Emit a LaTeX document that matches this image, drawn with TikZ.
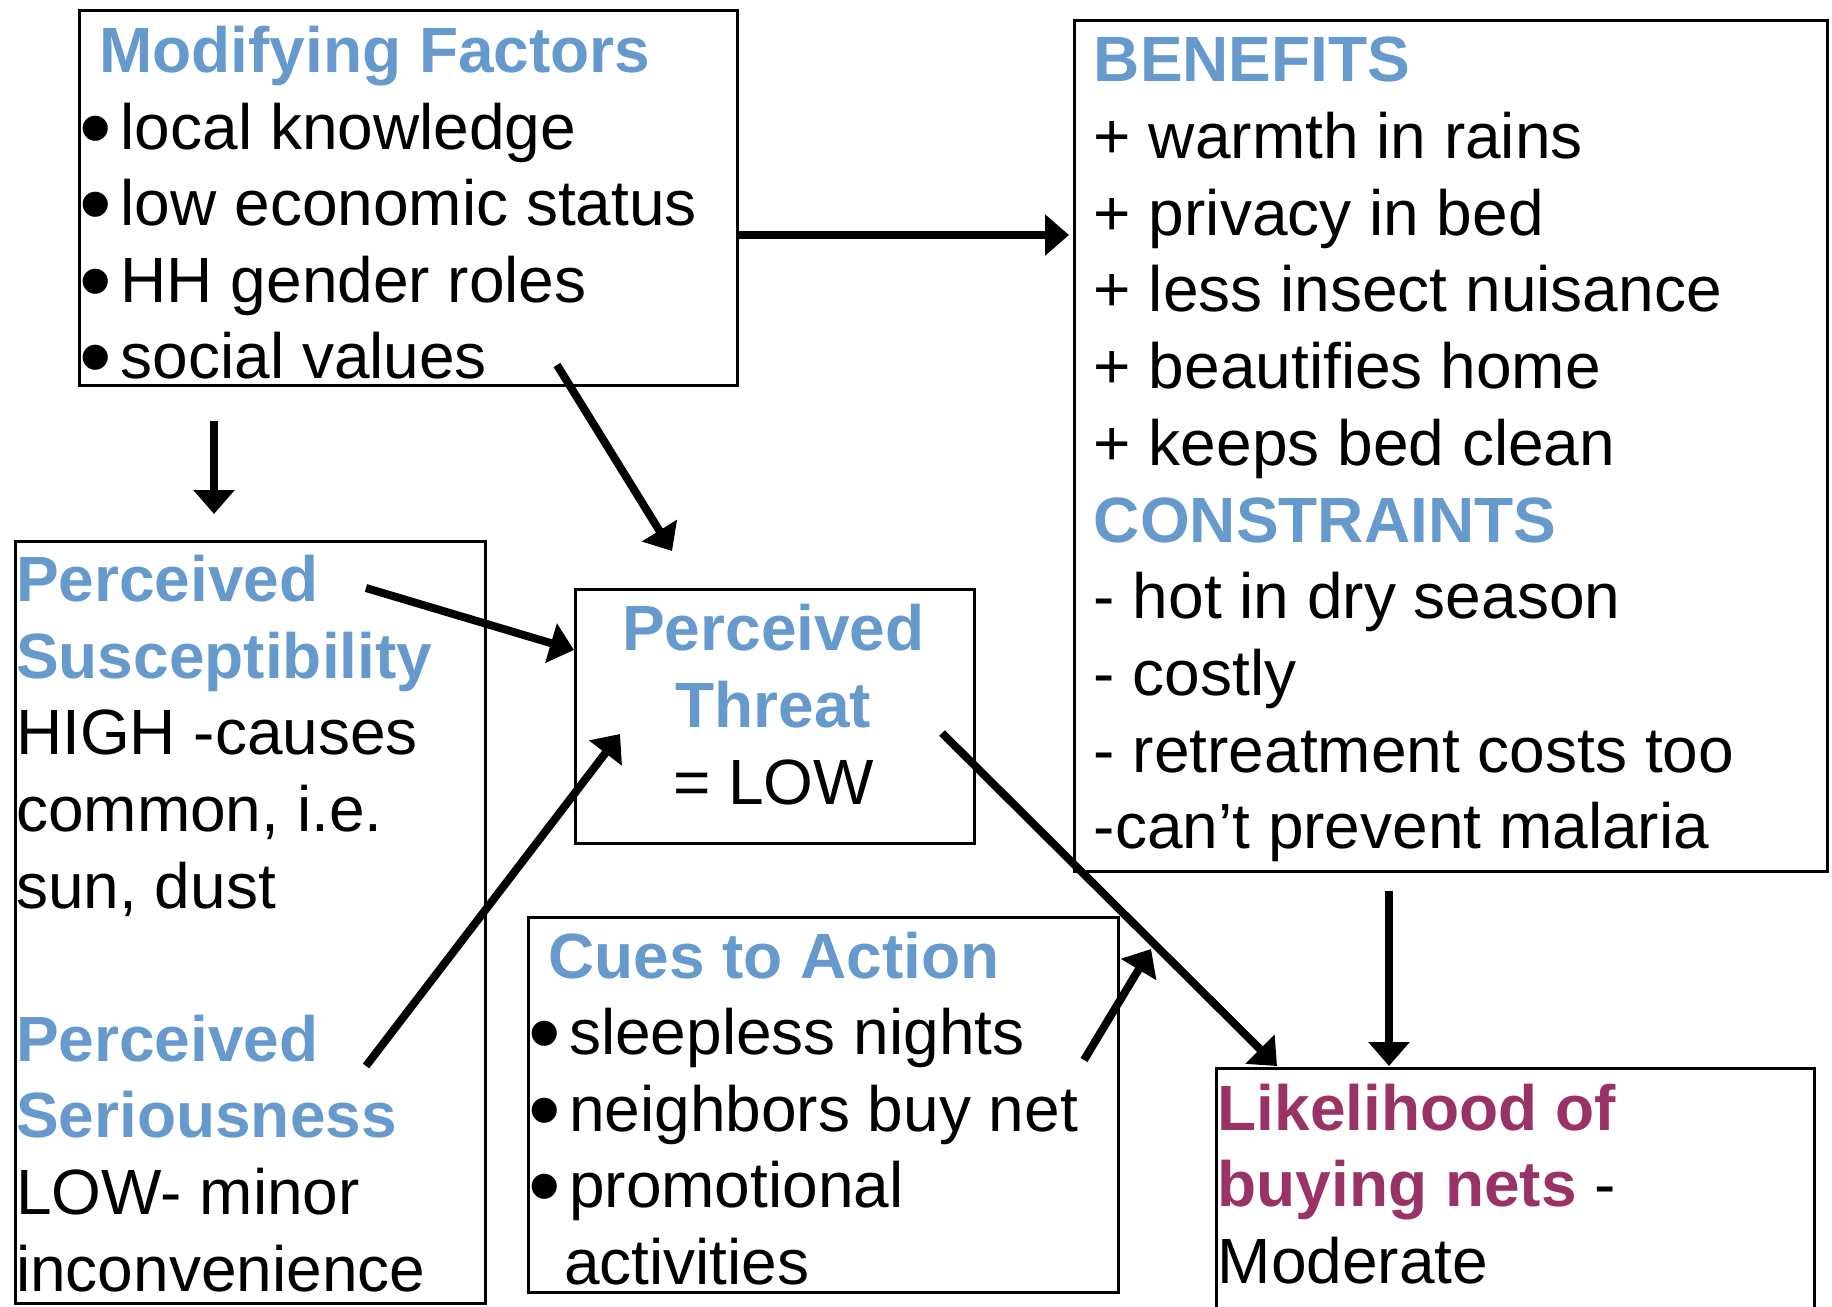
\documentclass[tikz,border=0pt]{standalone}
\usepackage{fontspec}
\setmainfont{Liberation Sans}
\usetikzlibrary{arrows.meta}
\definecolor{headblue}{RGB}{102,153,204}
\definecolor{likelyred}{RGB}{153,51,102}
\newcommand{\dotmark}{\makebox[41pt][l]{\raisebox{-10pt}{\scalebox{1.45}{•}}}}

\tikzset{
  box/.style={draw, line width=2.5pt, anchor=north west, inner sep=0pt},
  txt/.style={anchor=base west, inner sep=0pt, font=\fontsize{64}{76.6}\selectfont},
  head/.style={txt, font=\fontsize{64}{76.6}\selectfont\bfseries, text=headblue},
  arr/.style={-{Triangle[length=24pt,width=40pt]}, line width=8pt}
}

\begin{document}
\begin{tikzpicture}[x=1pt,y=-1pt]
            \useasboundingbox (0,0) rectangle (1832,1307);

            % boxes
            \node[box, minimum width=658, minimum height=375] (modbox) at (78,9) {};
            \node[box, minimum width=753, minimum height=851] (benbox) at (1073,19) {};
            \node[box, minimum width=470, minimum height=762] (percbox) at (14,540) {};
            \node[box, minimum width=399, minimum height=254] (threatbox) at (574,588) {};
            \node[box, minimum width=590, minimum height=375] (cuebox) at (527,916) {};
            \node[box, minimum width=598, minimum height=280] (likebox) at (1215,1067) {};

            % modifying factors
            \node[head] (modhead) at (99,72.4) {Modifying Factors};
            \foreach \t [count=\i] in {local knowledge, low economic status, HH gender roles, social values}
                \node[txt] (mod\i) at (79.5,72.4+76.6*\i) {\dotmark\t};

            % benefits and constraints
            \node[head] (benhead) at (1093.6,81.8) {BENEFITS};
            \foreach \t [count=\i] in {warmth in rains, privacy in bed, less insect nuisance, beautifies home, keeps bed clean}
                \node[txt] (ben\i) at (1093.6,81.8+76.7*\i) {+ \t};
            \node[head] (conhead) at (1093.6,81.8+76.7*6) {CONSTRAINTS};
            \foreach \t [count=\i] in {- hot in dry season, - costly, - retreatment costs too, -can’t prevent malaria}
                \node[txt] (con\i) at (1093.6,542+76.7*\i) {\t};

            % susceptibility and seriousness
            \node[head] (susc1) at (16,601.7) {Perceived};
            \node[head] (susc2) at (16,678.3) {Susceptibility};
            \node[txt] (susc3) at (16,754.9) {HIGH -causes};
            \node[txt] (susc4) at (16,831.5) {common, i.e.};
            \node[txt] (susc5) at (16,908.1) {sun, dust};
            \node[head] (ser1) at (16,1061.3) {Perceived};
            \node[head] (ser2) at (16,1137.9) {Seriousness};
            \node[txt] (ser3) at (16,1214.5) {LOW- minor};
            \node[txt] (ser4) at (16,1291.1) {inconvenience};

            % threat
            \node[head, anchor=base] (thr1) at (773.5,650.8) {Perceived};
            \node[head, anchor=base] (thr2) at (773.5,727.4) {Threat};
            \node[txt, anchor=base] (thr3) at (773.5,804) {= LOW};

            % cues
            \node[head] (cuehead) at (548,978) {Cues to Action};
            \foreach \t [count=\i] in {sleepless nights, neighbors buy net, promotional}
                \node[txt] (cue\i) at (528,978+76.6*\i) {\dotmark\t};
            \node[txt] (cue4) at (564,1284.4) {activities};

            % likelihood
            \node[txt, font=\fontsize{64}{76.6}\selectfont\bfseries, text=likelyred] (like1) at (1217.5,1130) {Likelihood of};
            \node[txt] (like2) at (1217.5,1206.6) {\textbf{\color{likelyred}buying nets} -};
            \node[txt] (like3) at (1217.5,1283.2) {Moderate};

            % arrow ends
            \coordinate (a1s) at (modbox.east |- 0,235);
            \coordinate (a1e) at (1069,235);
            \coordinate (a2s) at (214,421);
            \coordinate (a2e) at (214,514);
            \coordinate (a3s) at (557,365);
            \coordinate (a3e) at (672,551);
            \coordinate (a4s) at (366,588);
            \coordinate (a4e) at (threatbox.west |- 0,650);
            \coordinate (a5s) at (366,1066);
            \coordinate (a5e) at (620,734);
            \coordinate (a6s) at (942,733);
            \coordinate (a6e) at (1277,1066);
            \coordinate (a7s) at (1084,1060);
            \coordinate (a7e) at (1151,949);
            \coordinate (a8s) at (1389,891);
            \coordinate (a8e) at (1389,1066);

            \foreach \i in {1,...,8}
                \draw[arr] (a\i s) -- (a\i e);
        \end{tikzpicture}
\end{document}
